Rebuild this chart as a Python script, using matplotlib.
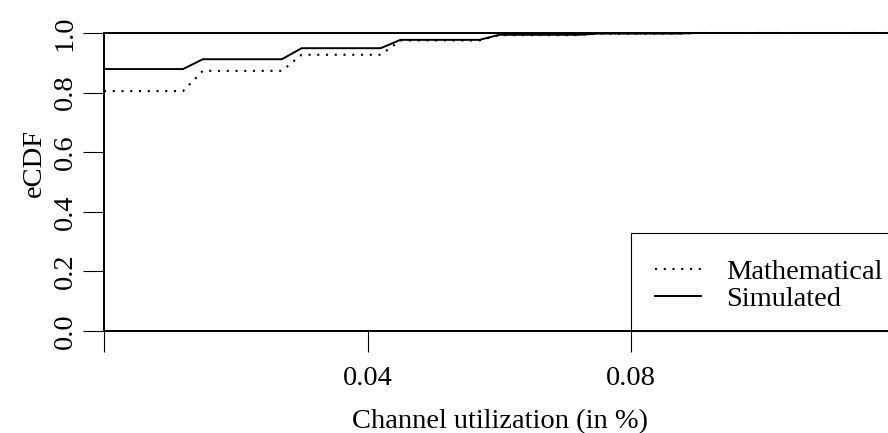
import matplotlib
matplotlib.use("Agg")
import matplotlib.pyplot as plt
from matplotlib.lines import Line2D
from matplotlib.patches import Rectangle

# eCDF of channel utilization, evaluated on a 0.003 grid
util = [0.000, 0.012, 0.015, 0.027, 0.030, 0.042, 0.045,
        0.057, 0.060, 0.072, 0.075, 0.087, 0.090, 0.125]
ecdf_sim = [0.879, 0.879, 0.912, 0.912, 0.949, 0.949, 0.977,
            0.977, 0.994, 0.994, 0.998, 0.998, 1.000, 1.000]
ecdf_math = [0.805, 0.805, 0.873, 0.873, 0.927, 0.927, 0.975,
             0.975, 0.993, 0.993, 0.998, 0.998, 1.000, 1.000]

xticks = [0.00, 0.04, 0.08]
xtick_labels = ["", "0.04", "0.08"]
yticks = [0.0, 0.2, 0.4, 0.6, 0.8, 1.0]
ytick_labels = ["0.0", "0.2", "0.4", "0.6", "0.8", "1.0"]

plt.rcParams["font.family"] = ["Liberation Serif", "DejaVu Serif"]
plt.rcParams["font.size"] = 20.5

fig = plt.figure(figsize=(8.88, 4.33), dpi=100)
ax = fig.add_axes([104 / 888, 102 / 433, 784 / 888, 298 / 433])

dot = (0, (1, 3.2))
ax.plot(util, ecdf_math, color="black", lw=1.5, linestyle=dot, clip_on=False)
ax.plot(util, ecdf_sim, color="black", lw=1.4, clip_on=False)
ax.axhline(1.0, color="black", lw=1.4, clip_on=False)

ax.set_xlim(0, 0.119)
ax.set_ylim(0, 1)

for side in ["top", "right"]:
    ax.spines[side].set_visible(False)
for side in ["left", "bottom"]:
    ax.spines[side].set_linewidth(1.4)

ax.set_xticks(xticks)
ax.set_xticklabels(xtick_labels)
ax.set_yticks(yticks)
ax.set_yticklabels(ytick_labels, rotation=90, va="center")
ax.tick_params(axis="both", direction="out", length=15, width=0.8, color="black")
ax.tick_params(axis="x", pad=10)
ax.tick_params(axis="y", pad=4)

ax.set_xlabel("Channel utilization (in %)")
ax.xaxis.set_label_coords(0.505, -0.262)
ax.set_ylabel("eCDF")
ax.yaxis.set_label_coords(-0.073, 0.564)

# legend box starts at x = 0.08 and runs off the right edge
handles = [Line2D([], [], color="black", lw=1.5, linestyle=dot),
           Line2D([], [], color="black", lw=1.4)]
ax.legend(handles, ["Mathematical", "Simulated"],
          loc="lower left", bbox_to_anchor=(0.08, -0.017),
          bbox_transform=ax.get_xaxis_transform(), borderaxespad=0,
          borderpad=0.85, labelspacing=0.02, handlelength=1.6,
          handletextpad=0.9, frameon=False)
ax.add_patch(Rectangle((0.08, 0), 0.06, 0.329, transform=ax.get_xaxis_transform(),
                       fill=False, edgecolor="black", lw=0.8, clip_on=False))

fig.savefig("out.png", dpi=100)
